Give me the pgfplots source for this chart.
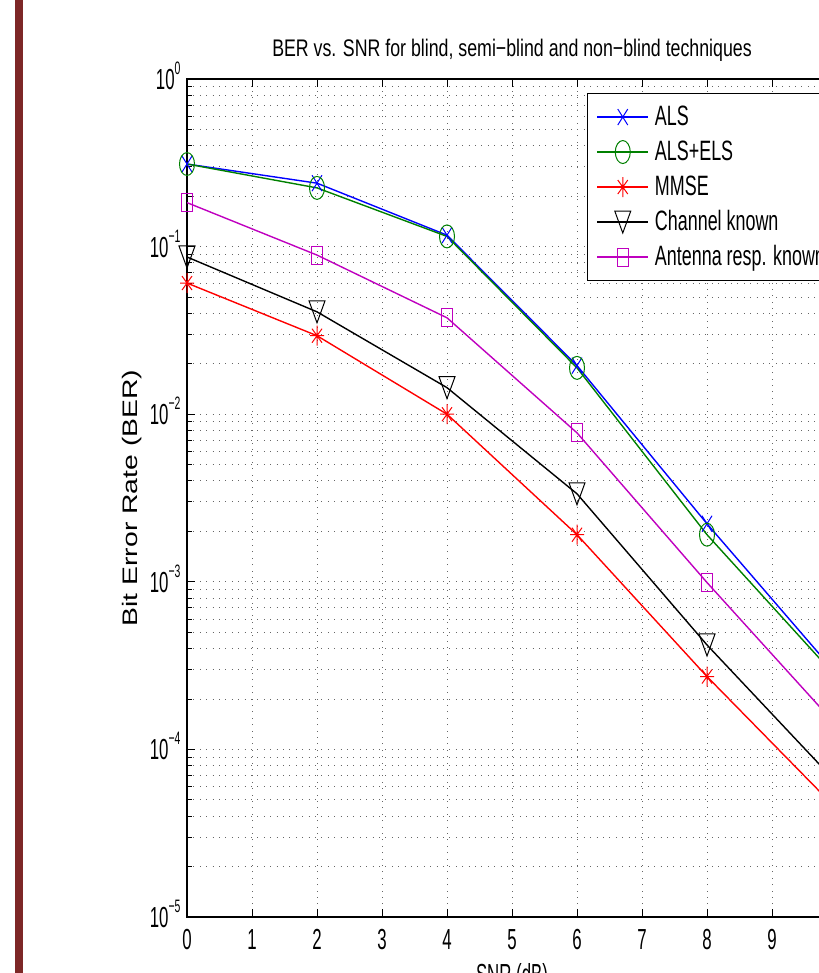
\documentclass[border=0pt]{standalone}
\usepackage{fontspec}
\setmainfont{Liberation Sans}
\newfontfamily\tf[FakeStretch=0.74]{Liberation Sans}
\newfontfamily\kf[FakeStretch=0.58]{Liberation Sans}
\newfontfamily\lf[FakeStretch=0.64]{Liberation Sans}
\newfontfamily\wf[FakeStretch=1.35]{Liberation Sans}
\usepackage{pgfplots}
\pgfplotsset{compat=1.18}
\definecolor{barred}{RGB}{125,39,39}
\definecolor{mgreen}{rgb}{0,0.5,0}
\definecolor{mmag}{rgb}{0.75,0,0.75}
\pgfdeclareplotmark{mx}{%
  \pgfpathmoveto{\pgfqpoint{-5pt}{-8pt}}\pgfpathlineto{\pgfqpoint{5pt}{8pt}}%
  \pgfpathmoveto{\pgfqpoint{-5pt}{8pt}}\pgfpathlineto{\pgfqpoint{5pt}{-8pt}}%
  \pgfusepathqstroke}
\pgfdeclareplotmark{mo}{%
  \pgfpathellipse{\pgfpointorigin}{\pgfqpoint{7.5pt}{0pt}}{\pgfqpoint{0pt}{11.5pt}}%
  \pgfusepathqstroke}
\pgfdeclareplotmark{mstar}{%
  \pgfpathmoveto{\pgfqpoint{-7pt}{0pt}}\pgfpathlineto{\pgfqpoint{7pt}{0pt}}%
  \pgfpathmoveto{\pgfqpoint{0pt}{-10pt}}\pgfpathlineto{\pgfqpoint{0pt}{10pt}}%
  \pgfpathmoveto{\pgfqpoint{-5pt}{-7pt}}\pgfpathlineto{\pgfqpoint{5pt}{7pt}}%
  \pgfpathmoveto{\pgfqpoint{-5pt}{7pt}}\pgfpathlineto{\pgfqpoint{5pt}{-7pt}}%
  \pgfusepathqstroke}
\pgfdeclareplotmark{mtri}{%
  \pgfpathmoveto{\pgfqpoint{-8pt}{11pt}}\pgfpathlineto{\pgfqpoint{8pt}{11pt}}%
  \pgfpathlineto{\pgfqpoint{0pt}{-11pt}}\pgfpathclose\pgfusepathqstroke}
\pgfdeclareplotmark{msq}{%
  \pgfpathrectangle{\pgfqpoint{-5.5pt}{-9pt}}{\pgfqpoint{11pt}{18pt}}%
  \pgfusepathqstroke}
\newcommand\tenpow[1]{10\raisebox{15pt}{\fontsize{18}{18}\selectfont #1}}
\begin{document}
\begin{tikzpicture}
\path[use as bounding box] (0,0) rectangle (818pt,973pt);
\fill[barred] (15pt,0) rectangle (22.5pt,973pt);
\begin{axis}[
  at={(187pt,56pt)}, anchor=south west,
  scale only axis, width=650pt, height=838pt,
  ymode=log, xmin=0, xmax=10, ymin=1e-5, ymax=1,
  xtick={0,1,...,9},
  ytick={1e-5,1e-4,1e-3,1e-2,1e-1,1},
  yticklabels={\tenpow{−5},\tenpow{−4},\tenpow{−3},\tenpow{−2},\tenpow{−1},\tenpow{0}},
  minor ytick={2e-5,3e-5,4e-5,5e-5,6e-5,7e-5,8e-5,9e-5,
               2e-4,3e-4,4e-4,5e-4,6e-4,7e-4,8e-4,9e-4,
               2e-3,3e-3,4e-3,5e-3,6e-3,7e-3,8e-3,9e-3,
               2e-2,3e-2,4e-2,5e-2,6e-2,7e-2,8e-2,9e-2,
               2e-1,3e-1,4e-1,5e-1,6e-1,7e-1,8e-1,9e-1},
  /pgf/number format/assume math mode=true,
  tick label style={font=\kf\fontsize{29}{34}\selectfont},
  yticklabel style={anchor=base east, yshift=-10.5pt, xshift=-3pt},
  xticklabel style={yshift=-9pt},
  xmajorgrids, ymajorgrids, yminorgrids,
  grid style={line width=0.8pt, black!60, dash pattern=on 0.8pt off 5.6pt},
  major grid style={line width=0.8pt, black!60, dash pattern=on 0.8pt off 5.6pt},
  minor grid style={line width=0.8pt, black!60, dash pattern=on 0.8pt off 5.6pt},
  tick align=inside,
  major tick length=8pt, minor tick length=5pt,
  tick style={black, line width=0.8pt},
  axis line style={line width=1.3pt},
  title={BER vs. SNR for blind, semi−blind and non−blind techniques},
  title style={font=\tf\fontsize{24}{29}\selectfont, at={(0.5,1)}, anchor=base, yshift=16pt},
  xlabel={SNR (dB)},
  xlabel style={font=\kf\fontsize{29}{34}\selectfont, at={(axis description cs:0.5,0)}, anchor=base, yshift=-67pt},
  ylabel={Bit Error Rate (BER)},
  ylabel style={font=\wf\fontsize{21}{25}\selectfont, at={(axis description cs:-0.0846,0.5)}, anchor=center},
  legend cell align=left,
  legend style={at={(0.6154,0.9833)}, anchor=north west, draw=black, line width=1.1pt,
    font=\lf\fontsize{28}{33}\selectfont, inner xsep=9pt, inner ysep=9pt, row sep=6pt,
    nodes={inner xsep=6pt, inner ysep=1pt, text height=22pt, text depth=5pt}},
  legend image code/.code={\draw[mark repeat=2, mark phase=2, #1] plot coordinates {(0pt,0pt) (25.5pt,0pt) (51pt,0pt)};},
  every axis plot/.append style={line width=1.4pt, mark options={line width=1pt, solid}},
]
\addplot[blue, mark=mx] coordinates {(0,0.311) (2,0.239) (4,0.117) (6,0.0195) (8,0.00222) (10,2.8e-4)};
\addlegendentry{ALS}
\addplot[mgreen, mark=mo] coordinates {(0,0.311) (2,0.224) (4,0.115) (6,0.0189) (8,0.00191) (10,2.68e-4)};
\addlegendentry{ALS+ELS}
\addplot[red, mark=mstar] coordinates {(0,0.0606) (2,0.0294) (4,0.0100) (6,0.00191) (8,2.72e-4) (10,4.4e-5)};
\addlegendentry{MMSE}
\addplot[black, mark=mtri] coordinates {(0,0.0867) (2,0.0408) (4,0.0144) (6,0.00335) (8,4.2e-4) (10,6.3e-5)};
\addlegendentry{Channel known}
\addplot[mmag, mark=msq] coordinates {(0,0.183) (2,0.089) (4,0.0376) (6,0.00774) (8,9.9e-4) (10,1.38e-4)};
\addlegendentry{Antenna resp. known}
\end{axis}
\end{tikzpicture}
\end{document}
